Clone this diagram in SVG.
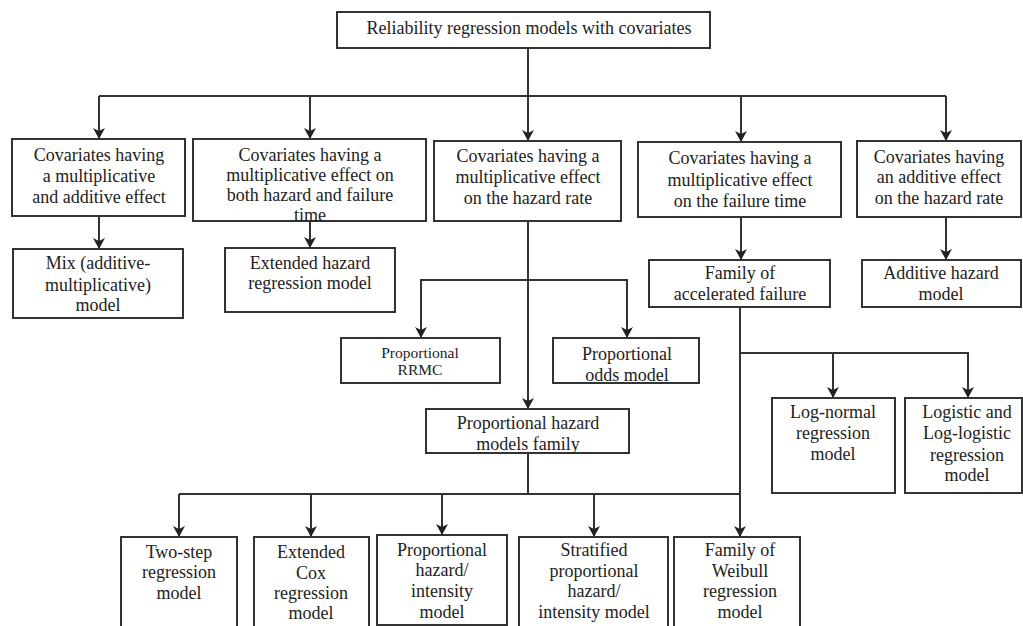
<svg xmlns="http://www.w3.org/2000/svg" width="1023" height="626" viewBox="0 0 1023 626">
<defs>
<marker id="ah" markerWidth="12" markerHeight="12" viewBox="0 0 12 12" refX="11" refY="6" orient="auto" markerUnits="userSpaceOnUse">
<path d="M0,0 L11,6 L0,12 L3,6 Z" fill="#222"/>
</marker>
<style>
rect{fill:#fff;stroke:#333;stroke-width:2}
text{font-family:'Liberation Serif','DejaVu Serif',serif;font-size:18px;fill:#222;text-anchor:middle}
.sm{font-size:15.5px}
.c line,.c polyline{stroke:#333;stroke-width:2;fill:none}
</style>
</defs>
<rect x="0" y="0" width="1023" height="626" style="fill:#fff;stroke:none"/>
<g class="c" id="connectors">
<line x1="528" y1="48" x2="528" y2="96"/>
<line x1="99" y1="96" x2="946" y2="96"/>
<line x1="99" y1="96" x2="99" y2="139" marker-end="url(#ah)"/>
<line x1="310" y1="96" x2="310" y2="139" marker-end="url(#ah)"/>
<line x1="528" y1="96" x2="528" y2="141" marker-end="url(#ah)"/>
<line x1="741" y1="96" x2="741" y2="142" marker-end="url(#ah)"/>
<line x1="946" y1="96" x2="946" y2="141" marker-end="url(#ah)"/>
<line x1="99" y1="216" x2="99" y2="249" marker-end="url(#ah)"/>
<line x1="310" y1="221" x2="310" y2="248" marker-end="url(#ah)"/>
<line x1="741" y1="217" x2="741" y2="260" marker-end="url(#ah)"/>
<line x1="946" y1="217" x2="946" y2="260" marker-end="url(#ah)"/>
<line x1="528" y1="221" x2="528" y2="409" marker-end="url(#ah)"/>
<polyline points="421,338 421,280 627,280 627,338"/>
<line x1="421" y1="300" x2="421" y2="338" marker-end="url(#ah)"/>
<line x1="627" y1="300" x2="627" y2="338" marker-end="url(#ah)"/>
<line x1="740" y1="307" x2="740" y2="537" marker-end="url(#ah)"/>
<polyline points="740,353 968,353 968,398"/>
<line x1="833" y1="353" x2="833" y2="398" marker-end="url(#ah)"/>
<line x1="968" y1="370" x2="968" y2="398" marker-end="url(#ah)"/>
<line x1="528" y1="453" x2="528" y2="494"/>
<line x1="179" y1="494" x2="740" y2="494"/>
<line x1="179" y1="494" x2="179" y2="537" marker-end="url(#ah)"/>
<line x1="311" y1="494" x2="311" y2="537" marker-end="url(#ah)"/>
<line x1="442" y1="494" x2="442" y2="535" marker-end="url(#ah)"/>
<line x1="594" y1="494" x2="594" y2="537" marker-end="url(#ah)"/>
</g>
<g id="root"><rect x="337" y="12" width="373" height="36"/><text x="529" y="34">Reliability regression models with covariates</text></g>
<g id="mult-add"><rect x="12" y="139" width="173" height="77"/><text x="99" y="161">Covariates having</text><text x="99" y="182">a multiplicative</text><text x="99" y="203">and additive effect</text></g>
<g id="mult-both"><rect x="193" y="139" width="233" height="82"/><text x="310" y="161">Covariates having a</text><text x="310" y="181">multiplicative effect on</text><text x="310" y="201">both hazard and failure</text><text x="310" y="221">time</text></g>
<g id="mult-hazard"><rect x="434" y="141" width="187" height="80"/><text x="528" y="162">Covariates having a</text><text x="528" y="183">multiplicative effect</text><text x="528" y="204">on the hazard rate</text></g>
<g id="mult-failure"><rect x="638" y="142" width="203" height="75"/><text x="740" y="164">Covariates having a</text><text x="740" y="186">multiplicative effect</text><text x="740" y="207">on the failure time</text></g>
<g id="add-hazard"><rect x="857" y="141" width="164" height="76"/><text x="939" y="163">Covariates having</text><text x="939" y="183">an additive effect</text><text x="939" y="204">on the hazard rate</text></g>
<g id="mix"><rect x="13" y="249" width="170" height="69"/><text x="98" y="269">Mix (additive-</text><text x="98" y="291">multiplicative)</text><text x="98" y="311">model</text></g>
<g id="ext-hazard"><rect x="225" y="248" width="170" height="64"/><text x="310" y="269">Extended hazard</text><text x="310" y="289">regression model</text></g>
<g id="rrmc"><rect x="341" y="338" width="159" height="45"/><text class="sm" x="420" y="358">Proportional</text><text class="sm" x="420" y="375">RRMC</text></g>
<g id="odds"><rect x="553" y="338" width="146" height="45"/><text x="627" y="360">Proportional</text><text x="627" y="381">odds model</text></g>
<g id="ph-family"><rect x="426" y="409" width="203" height="44"/><text x="528" y="429">Proportional hazard</text><text x="528" y="450">models family</text></g>
<g id="aft"><rect x="649" y="260" width="181" height="47"/><text x="740" y="279">Family of</text><text x="740" y="300">accelerated failure</text></g>
<g id="additive"><rect x="862" y="260" width="159" height="47"/><text x="941" y="279">Additive hazard</text><text x="941" y="300">model</text></g>
<g id="lognormal"><rect x="772" y="398" width="123" height="95"/><text x="833" y="418">Log-normal</text><text x="833" y="439">regression</text><text x="833" y="460">model</text></g>
<g id="logistic"><rect x="905" y="398" width="117" height="95"/><text x="967" y="418">Logistic and</text><text x="967" y="439">Log-logistic</text><text x="967" y="461">regression</text><text x="967" y="481">model</text></g>
<g id="two-step"><rect x="121" y="537" width="116" height="95"/><text x="179" y="558">Two-step</text><text x="179" y="578">regression</text><text x="179" y="599">model</text></g>
<g id="ext-cox"><rect x="254" y="537" width="115" height="95"/><text x="311" y="558">Extended</text><text x="311" y="579">Cox</text><text x="311" y="599">regression</text><text x="311" y="619">model</text></g>
<g id="ph-intensity"><rect x="377" y="535" width="130" height="90"/><text x="442" y="556">Proportional</text><text x="442" y="576">hazard/</text><text x="442" y="597">intensity</text><text x="442" y="618">model</text></g>
<g id="stratified"><rect x="519" y="537" width="149" height="95"/><text x="594" y="556">Stratified</text><text x="594" y="577">proportional</text><text x="594" y="597">hazard/</text><text x="594" y="618">intensity model</text></g>
<g id="weibull"><rect x="674" y="537" width="126" height="95"/><text x="740" y="556">Family of</text><text x="740" y="577">Weibull</text><text x="740" y="597">regression</text><text x="740" y="618">model</text></g>
</svg>
